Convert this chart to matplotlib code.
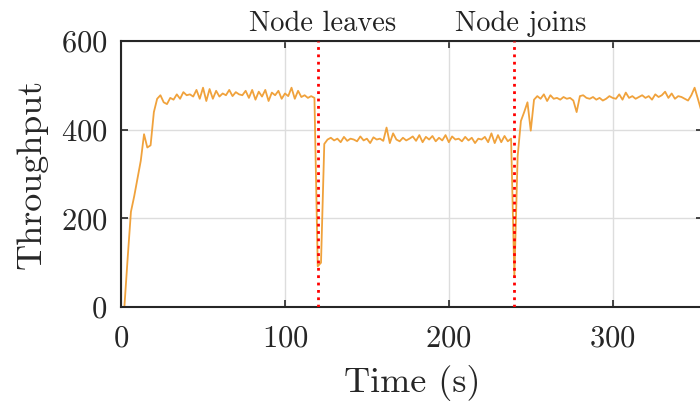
import numpy as np
import matplotlib
matplotlib.use("Agg")
import matplotlib.pyplot as plt
import matplotlib.transforms as mtransforms

plt.rcParams["font.family"] = "cmr10"
plt.rcParams["axes.formatter.use_mathtext"] = True
plt.rcParams["mathtext.fontset"] = "cm"

seg_before = [
    0, 0, 110, 215, 250, 290, 330, 390, 360, 365,
    440, 470, 478, 462, 458, 472, 468, 480, 470, 485,
    478, 480, 475, 490, 470, 495, 465, 492, 470, 488,
    475, 482, 478, 490, 476, 485, 480, 478, 488, 472,
    490, 468, 486, 475, 490, 465, 484, 478, 488, 470,
    482, 476, 495, 470, 488, 474, 478, 472, 476, 472,
]
seg_left = [
    92, 100, 368, 378, 382, 376, 380, 372, 384, 375,
    380, 378, 374, 385, 376, 380, 370, 383, 378, 380,
    375, 405, 370, 392, 378, 374, 382, 376, 380, 385,
    375, 388, 372, 384, 378, 386, 374, 382, 376, 388,
    372, 385, 378, 380, 374, 384, 376, 382, 370, 380,
    378, 384, 372, 392, 370, 388, 372, 386, 374, 380,
]
seg_joined = [
    68, 340, 420, 440, 462, 398, 468, 476, 470, 480,
    465, 478, 470, 472, 468, 474, 470, 472, 466, 440,
    476, 478, 472, 470, 474, 468, 472, 466, 470, 476,
    472, 470, 480, 468, 484, 472, 476, 470, 474, 478,
    472, 476, 468, 480, 474, 478, 486, 472, 482, 470,
    476, 474, 470, 466, 478, 495, 470, 444,
]
throughput = seg_before + seg_left + seg_joined
time_s = np.arange(len(throughput)) * 2

events = [120, 240]
event_labels = ["Node leaves", "Node joins"]
event_text_x = [123, 244]

fig = plt.figure(figsize=(7, 4.16), dpi=100)
ax = fig.add_axes([0.173, 0.262, 0.831, 0.639])

ax.plot(time_s, throughput, color="#f0a23c", lw=1.3, zorder=2)
for ev in events:
    ax.axvline(ev, color="red", ls=":", lw=2, zorder=3)

trans = mtransforms.blended_transform_factory(ax.transData, ax.transAxes)
for x, lab in zip(event_text_x, event_labels):
    ax.text(x, 1.015, lab, transform=trans, ha="center", va="bottom",
            fontsize=20.5, color="#222222")

ax.set_xlim(0, 355)
ax.set_ylim(0, 600)
ax.set_xticks([0, 100, 200, 300])
ax.set_yticks([0, 200, 400, 600])
ax.grid(True, color="#dddddd", lw=1)
ax.set_axisbelow(True)
ax.tick_params(direction="in", top=True, right=True, length=5, width=1.2,
               labelsize=22, colors="#262626")
ax.tick_params(axis="x", pad=13)
ax.tick_params(axis="y", pad=10)
for sp in ax.spines.values():
    sp.set_linewidth(1.5)
    sp.set_color("#262626")
ax.set_xlabel("Time (s)", fontsize=26, color="#262626", labelpad=9)
ax.set_ylabel("Throughput", fontsize=26, color="#262626", labelpad=9)

fig.savefig("out.png", dpi=100)
